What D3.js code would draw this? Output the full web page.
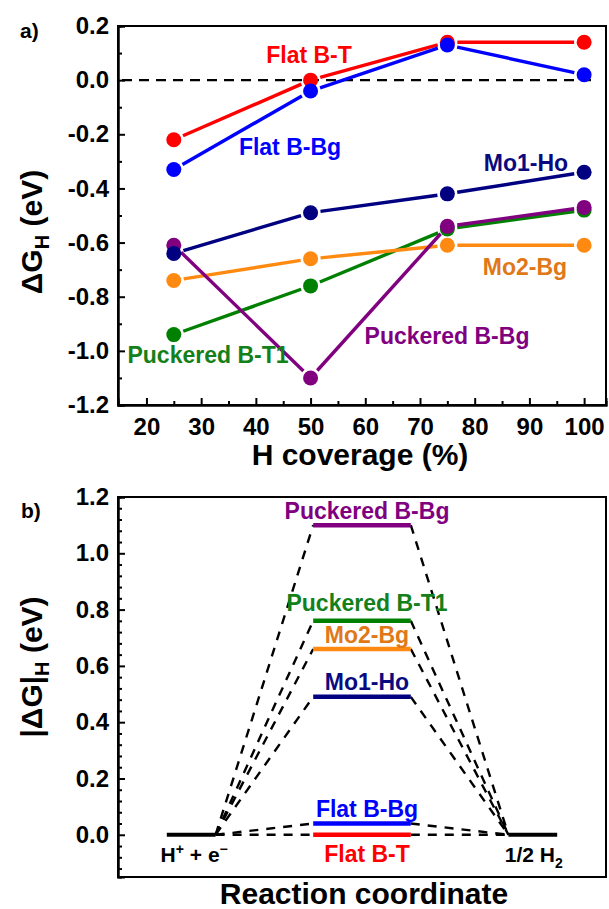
<!DOCTYPE html>
<html>
<head>
<meta charset="utf-8">
<script src="https://cdn.jsdelivr.net/npm/d3@7"></script>
<style>
  body { margin: 0; background: #fff; }
  svg { display: block; }
  text { font-family: "Liberation Sans", Arial, sans-serif; font-weight: bold; }
</style>
</head>
<body>
<svg id="chart" width="609" height="909"></svg>
<script>
// ---- data: free energy of H adsorption vs H coverage ----
const coverage = [25, 50, 75, 100];
const flatBT   = [-0.22,  0.00,  0.14,  0.14];
const flatBBg  = [-0.33, -0.04,  0.13,  0.02];
const puckBT1  = [-0.94, -0.76, -0.55, -0.48];
const mo2Bg    = [-0.74, -0.66, -0.61, -0.61];
const puckBBg  = [-0.61, -1.10, -0.54, -0.47];
const mo1Ho    = [-0.64, -0.49, -0.42, -0.34];

const seriesNames  = ["Flat B-T", "Flat B-Bg", "Puckered B-T1", "Mo2-Bg", "Puckered B-Bg", "Mo1-Ho"];
const seriesValues = [flatBT, flatBBg, puckBT1, mo2Bg, puckBBg, mo1Ho];

const xTicksA      = [20, 30, 40, 50, 60, 70, 80, 90, 100];
const xMinorTicksA = [25, 35, 45, 55, 65, 75, 85, 95];
const yTicksA      = [0.2, 0.0, -0.2, -0.4, -0.6, -0.8, -1.0, -1.2];
const yMinorTicksA = [0.1, -0.1, -0.3, -0.5, -0.7, -0.9, -1.1];

// ---- data: |dG_H| energy levels at 50 % coverage ----
const levelNames  = ["Puckered B-Bg", "Puckered B-T1", "Mo2-Bg", "Mo1-Ho", "Flat B-Bg", "Flat B-T"];
const levelValues = [1.10, 0.76, 0.66, 0.49, 0.04, 0.00];
const yTicksB     = [1.2, 1.0, 0.8, 0.6, 0.4, 0.2, 0.0];

// ---- styling ----
const lineColor = {
  "Flat B-T": "#ff0000", "Flat B-Bg": "#0000ff", "Puckered B-T1": "#008000",
  "Mo2-Bg": "#ff8a12", "Puckered B-Bg": "#800080", "Mo1-Ho": "#000080"
};
const textColor = {
  "Flat B-T": "#ff0000", "Flat B-Bg": "#0000ff", "Puckered B-T1": "#13801a",
  "Mo2-Bg": "#e07818", "Puckered B-Bg": "#800080", "Mo1-Ho": "#0a0a80"
};
const fmt1 = d => d.toFixed(1);   // plain hyphen for negatives

const svg = d3.select("#chart");

// ================= panel a =================
const A = { left: 118, right: 606, top: 26, bottom: 405 };
const xA = d3.scaleLinear().domain([14.8, 104]).range([A.left, A.right]);
const yA = d3.scaleLinear().domain([-1.2, 0.2]).range([A.bottom, A.top]);

const gA = svg.append("g");

// zero reference line
gA.append("line")
  .attr("x1", A.left + 4).attr("x2", A.right - 8)
  .attr("y1", yA(0)).attr("y2", yA(0))
  .attr("stroke", "#000").attr("stroke-width", 2.4)
  .attr("stroke-dasharray", "10,7");

// series: line segments with a gap round each symbol, then the symbols
const R = 7.5, GAP = R + 2.5;
seriesNames.forEach((name, i) => {
  const vals = seriesValues[i];
  const pts = coverage.map((c, j) => [xA(c), yA(vals[j])]);
  const g = gA.append("g");
  for (let j = 0; j < pts.length - 1; j++) {
    const [x0, y0] = pts[j], [x1, y1] = pts[j + 1];
    const d = Math.hypot(x1 - x0, y1 - y0);
    const ux = (x1 - x0) / d, uy = (y1 - y0) / d;
    g.append("line")
      .attr("x1", x0 + ux * GAP).attr("y1", y0 + uy * GAP)
      .attr("x2", x1 - ux * GAP).attr("y2", y1 - uy * GAP)
      .attr("stroke", lineColor[name]).attr("stroke-width", 3.4);
  }
  g.selectAll("circle").data(pts).enter().append("circle")
    .attr("cx", d => d[0]).attr("cy", d => d[1]).attr("r", R)
    .attr("fill", lineColor[name]);
});

// series labels
const labelPosA = {
  "Flat B-T": [309, 63], "Flat B-Bg": [290, 155], "Mo1-Ho": [526, 171],
  "Mo2-Bg": [525, 275], "Puckered B-Bg": [447, 344], "Puckered B-T1": [208, 363]
};
seriesNames.forEach(name => {
  gA.append("text")
    .attr("x", labelPosA[name][0]).attr("y", labelPosA[name][1])
    .attr("text-anchor", "middle").attr("font-size", 23)
    .attr("fill", textColor[name]).text(name);
});

// axes (ticks pointing inwards)
gA.append("g").attr("transform", `translate(0,${A.bottom})`)
  .call(d3.axisBottom(xA).tickValues(xTicksA).tickSize(-7).tickPadding(13).tickFormat(d3.format("d")));
gA.append("g").attr("transform", `translate(0,${A.bottom})`)
  .call(d3.axisBottom(xA).tickValues(xMinorTicksA).tickSize(-4).tickFormat(""));
gA.append("g").attr("transform", `translate(${A.left},0)`)
  .call(d3.axisLeft(yA).tickValues(yTicksA).tickSize(-7).tickPadding(9).tickFormat(fmt1));
gA.append("g").attr("transform", `translate(${A.left},0)`)
  .call(d3.axisLeft(yA).tickValues(yMinorTicksA).tickSize(-4).tickFormat(""));

// frame
gA.append("rect").attr("x", A.left).attr("y", A.top)
  .attr("width", A.right - A.left).attr("height", A.bottom - A.top)
  .attr("fill", "none").attr("stroke", "#000").attr("stroke-width", 2);

// axis titles
gA.append("text").attr("x", 360).attr("y", 465)
  .attr("text-anchor", "middle").attr("font-size", 30).text("H coverage (%)");
const tA = gA.append("text")
  .attr("transform", `translate(42,232) rotate(-90)`)
  .attr("text-anchor", "middle").attr("font-size", 30);
tA.append("tspan").text("ΔG");
tA.append("tspan").attr("font-size", 20).attr("dy", 7).text("H");
tA.append("tspan").attr("dy", -7).text(" (eV)");

gA.append("text").attr("x", 20).attr("y", 38).attr("font-size", 21).text("a)");

// ================= panel b =================
const B = { left: 118, right: 606, top: 497, bottom: 877 };
const xB = d3.scaleLinear().domain([0, 10]).range([B.left, B.right]);
const yB = d3.scaleLinear().domain([-0.15, 1.2]).range([B.bottom, B.top]);
const gB = svg.append("g");

// reaction stages along the coordinate
const reactantSpan = [1, 2], levelSpan = [4, 6], productSpan = [8, 9];

// dashed connectors
levelValues.forEach(v => {
  gB.append("line")
    .attr("x1", xB(reactantSpan[1])).attr("y1", yB(0))
    .attr("x2", xB(levelSpan[0])).attr("y2", yB(v))
    .attr("stroke", "#000").attr("stroke-width", 2.4).attr("stroke-dasharray", "9,8");
  gB.append("line")
    .attr("x1", xB(levelSpan[1])).attr("y1", yB(v))
    .attr("x2", xB(productSpan[0])).attr("y2", yB(0))
    .attr("stroke", "#000").attr("stroke-width", 2.4).attr("stroke-dasharray", "9,8");
});

// reactant / product levels
[reactantSpan, productSpan].forEach(s => {
  gB.append("line")
    .attr("x1", xB(s[0])).attr("x2", xB(s[1]))
    .attr("y1", yB(0)).attr("y2", yB(0))
    .attr("stroke", "#000").attr("stroke-width", 4);
});

// intermediate levels
levelNames.forEach((name, i) => {
  gB.append("line")
    .attr("x1", xB(levelSpan[0])).attr("x2", xB(levelSpan[1]))
    .attr("y1", yB(levelValues[i])).attr("y2", yB(levelValues[i]))
    .attr("stroke", lineColor[name]).attr("stroke-width", 4.5);
});

// level labels (offset from the level line)
const labelDyB = {
  "Puckered B-Bg": -6, "Puckered B-T1": -10, "Mo2-Bg": -6,
  "Mo1-Ho": -7, "Flat B-Bg": -7, "Flat B-T": 27
};
levelNames.forEach((name, i) => {
  gB.append("text")
    .attr("x", 367).attr("y", yB(levelValues[i]) + labelDyB[name])
    .attr("text-anchor", "middle").attr("font-size", 23)
    .attr("fill", textColor[name]).text(name);
});

// stage labels
const s1 = gB.append("text").attr("x", (xB(reactantSpan[0]) + xB(reactantSpan[1])) / 2 + 3)
  .attr("y", yB(0) + 27).attr("text-anchor", "middle").attr("font-size", 21);
s1.append("tspan").text("H");
s1.append("tspan").attr("font-size", 14).attr("dy", -8).text("+");
s1.append("tspan").attr("dy", 8).text(" + e");
s1.append("tspan").attr("font-size", 14).attr("dy", -8).text("−");
const s2 = gB.append("text").attr("x", (xB(productSpan[0]) + xB(productSpan[1])) / 2 + 1)
  .attr("y", yB(0) + 27).attr("text-anchor", "middle").attr("font-size", 21);
s2.append("tspan").text("1/2 H");
s2.append("tspan").attr("font-size", 14).attr("dy", 6).text("2");

// y axis with four minor ticks between majors
gB.append("g").attr("transform", `translate(${B.left},0)`)
  .call(d3.axisLeft(yB).tickValues(yTicksB).tickSize(-7).tickPadding(9).tickFormat(fmt1));
const minorB = d3.range(-0.12, 1.2, 0.04).map(v => +v.toFixed(2))
  .filter(v => Math.abs(Math.round(v * 5) - v * 5) > 1e-6);
gB.append("g").attr("transform", `translate(${B.left},0)`)
  .call(d3.axisLeft(yB).tickValues(minorB).tickSize(-4).tickFormat(""));

gB.append("rect").attr("x", B.left).attr("y", B.top)
  .attr("width", B.right - B.left).attr("height", B.bottom - B.top)
  .attr("fill", "none").attr("stroke", "#000").attr("stroke-width", 2);

gB.append("text").attr("x", 364).attr("y", 904)
  .attr("text-anchor", "middle").attr("font-size", 30).text("Reaction coordinate");
const tB = gB.append("text")
  .attr("transform", `translate(42,667) rotate(-90)`)
  .attr("text-anchor", "middle").attr("font-size", 30);
tB.append("tspan").text("|ΔG|");
tB.append("tspan").attr("font-size", 20).attr("dy", 7).text("H");
tB.append("tspan").attr("dy", -7).text(" (eV)");

gB.append("text").attr("x", 21).attr("y", 518).attr("font-size", 21).text("b)");

// common axis styling
svg.selectAll(".domain").attr("stroke", "#000").attr("stroke-width", 2);
svg.selectAll(".tick line").attr("stroke", "#000").attr("stroke-width", 2);
svg.selectAll(".tick text").attr("font-size", 24).attr("fill", "#000")
  .attr("font-family", "'Liberation Sans', Arial, sans-serif").attr("font-weight", "bold");
</script>
</body>
</html>
